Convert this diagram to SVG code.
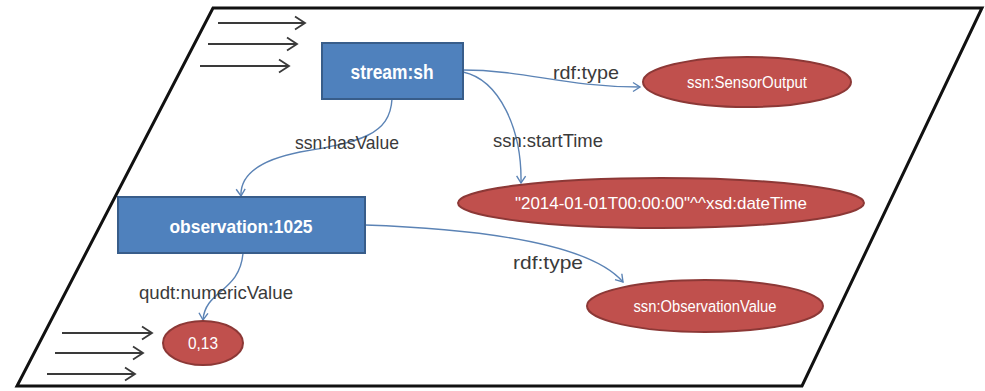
<svg xmlns="http://www.w3.org/2000/svg" width="985" height="391" viewBox="0 0 985 391">
  <style>
    .frame { fill: #ffffff; stroke: #111111; stroke-width: 3; stroke-linejoin: miter; }
    .stream { stroke: #3a3a3a; stroke-width: 1.8; fill: none; marker-end: url(#blackHead); }
    .box { fill: #4f81bd; stroke: #385d8a; stroke-width: 2; }
    .lit { fill: #c0504d; stroke: #8c3836; stroke-width: 2; }
    .boxText { font-family: "Liberation Sans", Arial, sans-serif; font-weight: bold; fill: #ffffff; text-anchor: middle; }
    .litText { font-family: "Liberation Sans", Arial, sans-serif; fill: #ffffff; text-anchor: middle; }
    .edge { stroke: #5b83b5; stroke-width: 1.4; fill: none; marker-end: url(#blueHead); }
    .edgeLabel { font-family: "Liberation Sans", Arial, sans-serif; font-size: 19px; fill: #3a3a3a; text-anchor: middle; }
  </style>
  <defs>
    <marker id="blueHead" markerUnits="userSpaceOnUse" markerWidth="12" markerHeight="12" refX="9" refY="6" orient="auto">
      <path d="M2,1.5 L9,6 L2,10.5" fill="none" stroke="#5b83b5" stroke-width="1.4"/>
    </marker>
    <marker id="blackHead" markerUnits="userSpaceOnUse" markerWidth="14" markerHeight="16" refX="12" refY="8" orient="auto">
      <path d="M2,1.5 L12,8 L2,14.5" fill="none" stroke="#3a3a3a" stroke-width="1.8"/>
    </marker>
  </defs>

  <!-- window frame -->
  <polygon class="frame" points="213,8 982,8 802,386 17,386"/>

  <!-- incoming stream arrows -->
  <g id="stream-in-top">
    <line class="stream" x1="218" y1="23" x2="305" y2="23"/>
    <line class="stream" x1="208" y1="44" x2="297" y2="44"/>
    <line class="stream" x1="200" y1="66" x2="289" y2="66"/>
  </g>
  <g id="stream-in-bottom">
    <line class="stream" x1="62" y1="333" x2="152" y2="333"/>
    <line class="stream" x1="55" y1="353" x2="143" y2="353"/>
    <line class="stream" x1="47" y1="374" x2="135" y2="374"/>
  </g>

  <!-- connectors -->
  <g id="edges">
    <path class="edge" d="M463,70 C 525,70 565,87 640,87"/>
    <path class="edge" d="M463,72 C 500,80 522,130 521,183"/>
    <path class="edge" d="M392,99 C 390,135 360,142 300,152 C 260,160 240,175 241,196"/>
    <path class="edge" d="M365,225 C 450,228 585,238 623,282"/>
    <path class="edge" d="M243,253 C 240,292 205,290 203,320"/>
    <text class="edgeLabel" x="586" y="79" textLength="66" lengthAdjust="spacingAndGlyphs">rdf:type</text>
    <text class="edgeLabel" x="548" y="147" textLength="110" lengthAdjust="spacingAndGlyphs">ssn:startTime</text>
    <text class="edgeLabel" x="347" y="149" textLength="104" lengthAdjust="spacingAndGlyphs">ssn:hasValue</text>
    <text class="edgeLabel" x="548" y="269" textLength="70" lengthAdjust="spacingAndGlyphs">rdf:type</text>
    <text class="edgeLabel" x="216" y="299" textLength="154" lengthAdjust="spacingAndGlyphs">qudt:numericValue</text>
  </g>

  <!-- resource nodes -->
  <g id="stream-sh">
    <rect class="box" x="322" y="43" width="141" height="56"/>
    <text class="boxText" x="392" y="79" font-size="20" textLength="83" lengthAdjust="spacingAndGlyphs">stream:sh</text>
  </g>
  <g id="observation-1025">
    <rect class="box" x="118" y="197" width="247" height="56"/>
    <text class="boxText" x="241" y="233" font-size="19" textLength="143" lengthAdjust="spacingAndGlyphs">observation:1025</text>
  </g>

  <!-- literal / class nodes -->
  <g id="sensor-output">
    <ellipse class="lit" cx="747" cy="82" rx="104" ry="25"/>
    <text class="litText" x="747" y="88" font-size="16" textLength="120" lengthAdjust="spacingAndGlyphs">ssn:SensorOutput</text>
  </g>
  <g id="start-time">
    <ellipse class="lit" cx="661" cy="203" rx="203" ry="25"/>
    <text class="litText" x="661" y="209" font-size="17" textLength="292" lengthAdjust="spacingAndGlyphs">"2014-01-01T00:00:00"^^xsd:dateTime</text>
  </g>
  <g id="observation-value">
    <ellipse class="lit" cx="705" cy="306" rx="118" ry="26"/>
    <text class="litText" x="705" y="312" font-size="16" textLength="143" lengthAdjust="spacingAndGlyphs">ssn:ObservationValue</text>
  </g>
  <g id="numeric-value">
    <ellipse class="lit" cx="203" cy="343" rx="40" ry="22"/>
    <text class="litText" x="203" y="349" font-size="17" textLength="30" lengthAdjust="spacingAndGlyphs">0,13</text>
  </g>
</svg>
